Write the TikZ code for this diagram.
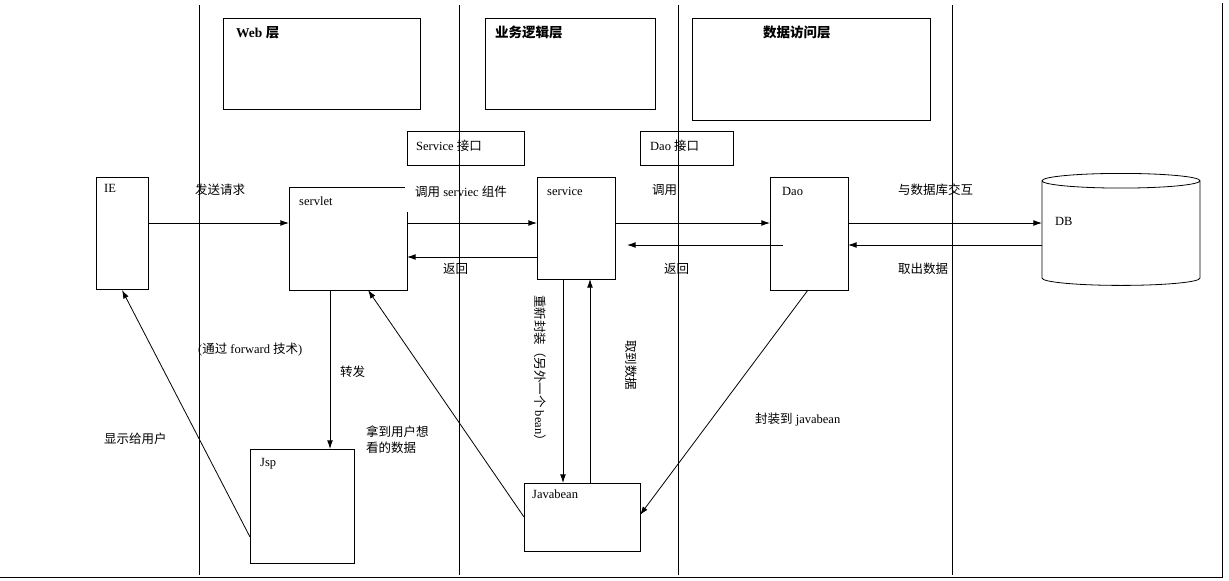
\documentclass[tikz,border=0pt]{standalone}
\usepackage{fontspec}
\setmainfont{Liberation Serif}
\newfontfamily\cjk{Noto Sans CJK SC}
\usetikzlibrary{arrows.meta, shapes.geometric}
\begin{document}
\begin{tikzpicture}[
    x=1pt, y=-1pt,
    font=\fontsize{12.5}{15}\selectfont,
    box/.style={draw, thick, rectangle, inner sep=0pt},
    lbl/.style={anchor=north west, inner sep=0pt},
    cn/.style={font=\cjk\fontsize{12.5}{16}\selectfont},
    arrow/.style={-{Latex[length=3mm,width=2mm]}, thick},
]
\useasboundingbox (0,0) rectangle (1229,581);
\draw[thick] (1222,3) -- (1222,577) -- (0,577);

% Layer separators
\foreach \x in {199,459,678,952}
    \draw[thick] (\x,5) -- (\x,575);

% Layer titles
\node[box, minimum width=197, minimum height=91, anchor=north west] (web) at (223,18) {};
\node[lbl, font=\bfseries\fontsize{13.5}{15}\selectfont] at (236,26) {Web {\cjk 层}};
\node[box, minimum width=170, minimum height=91, anchor=north west] (biz) at (485,18) {};
\node[lbl, font=\bfseries\cjk\fontsize{13.5}{15}\selectfont] at (495,26) {业务逻辑层};
\node[box, minimum width=238, minimum height=102, anchor=north west] (data) at (692,18) {};
\node[lbl, font=\bfseries\cjk\fontsize{13.5}{15}\selectfont] at (763,26) {数据访问层};

% Interfaces
\node[box, minimum width=117, minimum height=34, anchor=north west] (svcif) at (407,131) {};
\node[lbl] at (416,140) {Service {\cjk 接口}};
\node[box, minimum width=93, minimum height=34, anchor=north west] (daoif) at (640,131) {};
\node[lbl] at (650,140) {Dao {\cjk 接口}};

% Main components
\node[box, minimum width=52, minimum height=112, anchor=north west] (ie) at (96,177) {};
\node[lbl] at (104,184) {IE};
\draw[thick] (405,187) -- (289,187) -- (289,290) -- (407,290) -- (407,212);
\node[lbl] (servlet) at (299,197) {servlet};
\node[box, minimum width=78, minimum height=102, anchor=north west] (service) at (537,177) {};
\node[lbl] at (547,187) {service};
\node[box, minimum width=78, minimum height=113, anchor=north west] (dao) at (770,177) {};
\node[lbl] at (782,187) {Dao};
\node[cylinder, shape border rotate=90, draw, thick, minimum width=158, minimum height=112,
      aspect=2.2, anchor=north] (db) at (1121,173) {};
\node[lbl] at (1055,217) {DB};
\node[box, minimum width=104, minimum height=114, anchor=north west] (jsp) at (250,449) {};
\node[lbl] at (260,458) {Jsp};
\node[box, minimum width=116, minimum height=68, anchor=north west] (bean) at (524,483) {};
\node[lbl] at (532,490) {Javabean};

% Request path
\draw[arrow] (148,223) -- (289,223);
\draw[arrow] (407,223) -- (537,223);
\draw[arrow] (537,257) -- (407,257);
\draw[arrow] (615,223) -- (770,223);
\draw[arrow] (783,245) -- (627,245);
\draw[arrow] (848,223) -- (1042,223);
\draw[arrow] (1042,245) -- (848,245);

\node[lbl, cn] at (195,184) {发送请求};
\node[lbl] at (415,186) {{\cjk 调用} serviec {\cjk 组件}};
\node[lbl, cn] at (443,263) {返回};
\node[lbl, cn] at (652,184) {调用};
\node[lbl, cn] at (664,263) {返回};
\node[lbl, cn] at (898,184) {与数据库交互};
\node[lbl, cn] at (898,263) {取出数据};

% Forward and display
\draw[arrow] (330,290) -- (330,449);
\draw[arrow] (250,537) -- (122,290);
\draw[arrow] (524,517) -- (368,290);
\draw[arrow] (563,279) -- (563,483);
\draw[arrow] (590,483) -- (590,279);
\draw[arrow] (808,290) -- (640,515);

\node[lbl] at (198,343) {({\cjk 通过} forward {\cjk 技术})};
\node[lbl, cn] at (340,366) {转发};
\node[lbl, cn, align=left] at (366,426) {拿到用户想\\看的数据};
\node[lbl, cn] at (104,433) {显示给用户};
\node[lbl] at (755,413) {{\cjk 封装到} javabean};
\node[rotate=-90, anchor=north west, inner sep=0pt] at (546,295) {{\cjk 重新封装（另外一个} bean{\cjk ）}};
\node[rotate=-90, anchor=north west, inner sep=0pt] at (637,340) {\cjk 取到数据};
\end{tikzpicture}
\end{document}
